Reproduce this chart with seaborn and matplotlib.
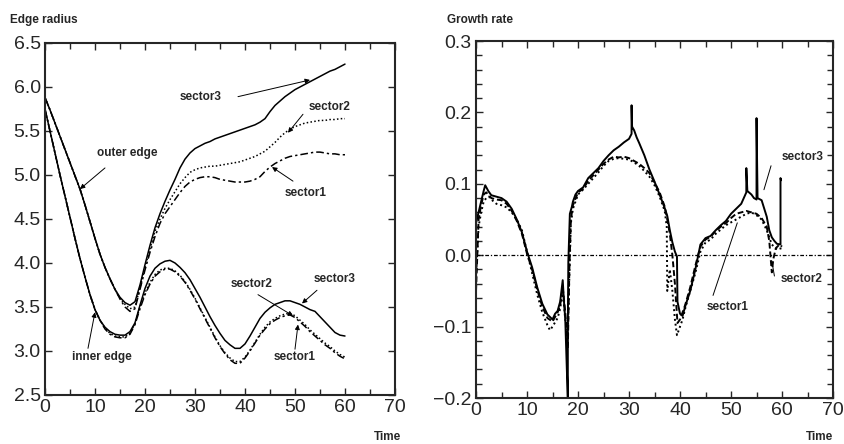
import numpy as np
import matplotlib
matplotlib.use("Agg")
import matplotlib.pyplot as plt
import seaborn as sns
from matplotlib.ticker import MultipleLocator, FuncFormatter

# ---- edge radius data (time 0..60) ----
time = list(range(61))

outer_sector3 = [5.88, 5.74, 5.59, 5.44, 5.29, 5.14, 4.99, 4.84, 4.66, 4.47,
                 4.28, 4.10, 3.95, 3.82, 3.70, 3.61, 3.55, 3.52, 3.56, 3.75,
                 3.98, 4.20, 4.40, 4.56, 4.70, 4.83, 4.95, 5.08, 5.18, 5.25,
                 5.30, 5.33, 5.36, 5.38, 5.41, 5.43, 5.45, 5.47, 5.49, 5.51,
                 5.53, 5.55, 5.57, 5.60, 5.64, 5.72, 5.79, 5.84, 5.89, 5.93,
                 5.97, 6.00, 6.03, 6.06, 6.09, 6.12, 6.15, 6.18, 6.20, 6.23, 6.26]
outer_sector2 = [5.88, 5.74, 5.59, 5.44, 5.29, 5.14, 4.99, 4.84, 4.66, 4.47,
                 4.28, 4.10, 3.95, 3.82, 3.70, 3.60, 3.53, 3.48, 3.50, 3.72,
                 3.95, 4.16, 4.36, 4.50, 4.62, 4.72, 4.81, 4.90, 4.97, 5.03,
                 5.06, 5.08, 5.09, 5.10, 5.10, 5.11, 5.12, 5.13, 5.14, 5.15,
                 5.17, 5.19, 5.21, 5.24, 5.27, 5.32, 5.37, 5.43, 5.48, 5.52,
                 5.55, 5.57, 5.59, 5.60, 5.61, 5.62, 5.62, 5.63, 5.63, 5.64, 5.64]
outer_sector1 = [5.88, 5.74, 5.59, 5.44, 5.29, 5.14, 4.99, 4.84, 4.66, 4.47,
                 4.28, 4.10, 3.95, 3.82, 3.70, 3.59, 3.50, 3.45, 3.48, 3.70,
                 3.92, 4.12, 4.30, 4.45, 4.56, 4.64, 4.72, 4.80, 4.87, 4.92,
                 4.95, 4.97, 4.98, 4.98, 4.97, 4.95, 4.94, 4.93, 4.92, 4.92,
                 4.92, 4.93, 4.95, 4.98, 5.04, 5.09, 5.13, 5.16, 5.19, 5.21,
                 5.22, 5.23, 5.24, 5.25, 5.26, 5.26, 5.25, 5.24, 5.24, 5.23, 5.23]

inner_sector3 = [5.75, 5.50, 5.25, 5.00, 4.76, 4.52, 4.28, 4.05, 3.84, 3.64,
                 3.47, 3.35, 3.27, 3.22, 3.19, 3.18, 3.18, 3.22, 3.32, 3.52,
                 3.71, 3.85, 3.94, 3.99, 4.02, 4.03, 4.00, 3.95, 3.89, 3.81,
                 3.71, 3.61, 3.50, 3.39, 3.29, 3.20, 3.12, 3.07, 3.03, 3.03,
                 3.08, 3.17, 3.27, 3.37, 3.44, 3.49, 3.53, 3.55, 3.57, 3.57,
                 3.55, 3.53, 3.50, 3.47, 3.45, 3.39, 3.33, 3.27, 3.21, 3.18, 3.17]
inner_sector2 = [5.75, 5.50, 5.25, 5.00, 4.76, 4.52, 4.28, 4.05, 3.84, 3.64,
                 3.47, 3.35, 3.26, 3.20, 3.17, 3.16, 3.16, 3.20, 3.31, 3.50,
                 3.66, 3.78, 3.87, 3.92, 3.94, 3.94, 3.91, 3.86, 3.79, 3.70,
                 3.60, 3.49, 3.38, 3.27, 3.16, 3.06, 2.98, 2.92, 2.88, 2.88,
                 2.93, 3.01, 3.10, 3.19, 3.27, 3.33, 3.37, 3.40, 3.42, 3.43,
                 3.40, 3.35, 3.30, 3.24, 3.19, 3.14, 3.09, 3.05, 3.00, 2.96, 2.93]
inner_sector1 = [5.75, 5.50, 5.25, 5.00, 4.76, 4.52, 4.28, 4.05, 3.84, 3.64,
                 3.47, 3.35, 3.25, 3.19, 3.16, 3.15, 3.15, 3.19, 3.30, 3.48,
                 3.64, 3.76, 3.85, 3.90, 3.93, 3.93, 3.90, 3.85, 3.78, 3.69,
                 3.59, 3.48, 3.37, 3.26, 3.15, 3.05, 2.97, 2.90, 2.86, 2.86,
                 2.92, 3.00, 3.09, 3.18, 3.25, 3.31, 3.35, 3.38, 3.40, 3.41,
                 3.38, 3.33, 3.28, 3.22, 3.17, 3.12, 3.07, 3.03, 2.98, 2.94, 2.91]

# ---- growth rate data ----
g3_time = [0, 0, 0.5, 1, 1.5, 1.8, 2.4, 3, 4, 5, 6, 7, 8, 9, 10, 11, 12, 13, 14, 15,
           15.5, 16, 16.5, 17, 17.2, 17.5, 17.8, 18, 18, 18.1, 18.4, 18.8, 19, 19.5,
           20, 21, 22, 23, 24, 25, 26, 27, 28, 29, 30, 30.5, 30.5, 30.6, 31, 31.5,
           32, 33, 34, 35, 36, 37, 37.5, 38, 38.5, 39, 39.4, 39.5, 40, 40.5, 41, 42,
           43, 44, 45, 46, 47, 48, 49, 50, 51, 52, 53, 53, 53.2, 54, 54.5, 55, 55,
           55.2, 56, 57, 57.5, 58, 58.5, 59, 59.7, 59.7, 59.8]
g3_rate = [-0.12, 0.045, 0.06, 0.075, 0.09, 0.098, 0.09, 0.084, 0.082, 0.08, 0.075,
           0.065, 0.05, 0.032, 0.005, -0.017, -0.045, -0.068, -0.083, -0.09, -0.082,
           -0.078, -0.065, -0.035, -0.06, -0.09, -0.158, -0.2, -0.1, -0.01, 0.058,
           0.068, 0.075, 0.085, 0.09, 0.095, 0.108, 0.115, 0.122, 0.132, 0.14, 0.147,
           0.152, 0.158, 0.163, 0.17, 0.21, 0.18, 0.175, 0.165, 0.157, 0.14, 0.12,
           0.103, 0.085, 0.066, 0.055, 0.035, 0.018, 0.005, -0.002, -0.065, -0.082,
           -0.085, -0.072, -0.05, -0.02, 0.015, 0.024, 0.027, 0.035, 0.042, 0.048,
           0.058, 0.065, 0.072, 0.088, 0.122, 0.09, 0.085, 0.08, 0.078, 0.192, 0.08,
           0.077, 0.054, 0.035, 0.025, 0.02, 0.016, 0.015, 0.108, 0.105]

g2_time = [0, 0.5, 1, 1.5, 2, 3, 4, 5, 6, 7, 8, 9, 10, 11, 12, 13, 14, 15, 16, 16.5,
           17, 17.5, 18, 18.3, 18.6, 19, 20, 21, 22, 23, 24, 25, 26, 27, 28, 29, 30,
           31, 32, 33, 34, 35, 36, 37, 37.5, 38, 38.5, 39, 39.5, 40, 40.5, 41, 42,
           43, 44, 45, 46, 47, 48, 49, 50, 51, 52, 53, 54, 55, 56, 57, 57.5, 58,
           58.3, 58.8, 59.5, 60]
g2_rate = [-0.05, 0.05, 0.07, 0.085, 0.088, 0.08, 0.078, 0.077, 0.072, 0.062, 0.048,
           0.03, 0.002, -0.02, -0.048, -0.072, -0.088, -0.093, -0.08, -0.07, -0.045,
           -0.08, -0.13, -0.02, 0.05, 0.07, 0.088, 0.093, 0.104, 0.112, 0.12, 0.128,
           0.134, 0.138, 0.137, 0.138, 0.136, 0.132, 0.128, 0.122, 0.115, 0.102,
           0.088, 0.068, 0.05, 0.03, 0.0, -0.04, -0.095, -0.09, -0.08, -0.07, -0.045,
           -0.015, 0.012, 0.022, 0.026, 0.034, 0.04, 0.045, 0.052, 0.058, 0.06, 0.062,
           0.06, 0.058, 0.052, 0.04, 0.02, -0.024, -0.005, 0.01, 0.015, 0.012]

g1_time = [0, 0.5, 1, 1.5, 2, 2.5, 3, 4, 5, 6, 7, 8, 9, 10, 11, 12, 13, 14, 14.5, 15,
           16, 16.5, 17, 17.5, 18, 18.3, 18.6, 19, 20, 21, 22, 23, 24, 25, 26, 27,
           28, 29, 30, 31, 32, 33, 34, 35, 36, 37, 37.4, 37.5, 38, 38.5, 39, 39.4,
           40, 40.5, 41, 42, 43, 44, 45, 46, 47, 48, 49, 50, 51, 52, 53, 54, 55, 56,
           57, 58, 59, 60]
g1_rate = [-0.03, 0.04, 0.06, 0.075, 0.08, 0.082, 0.078, 0.072, 0.07, 0.067, 0.06,
           0.05, 0.035, 0.005, -0.025, -0.055, -0.08, -0.098, -0.105, -0.1, -0.088,
           -0.075, -0.05, -0.09, -0.11, -0.03, 0.045, 0.065, 0.085, 0.092, 0.1, 0.108,
           0.116, 0.125, 0.132, 0.135, 0.136, 0.135, 0.134, 0.13, 0.125, 0.118, 0.11,
           0.098, 0.082, 0.062, 0.04, -0.05, -0.02, -0.05, -0.09, -0.112, -0.1, -0.09,
           -0.075, -0.05, -0.025, 0.005, 0.018, 0.022, 0.03, 0.036, 0.042, 0.046,
           0.05, 0.054, 0.058, 0.06, 0.056, 0.05, 0.035, 0.015, 0.008, 0.01]

sns.set_style("ticks")
plt.rcParams["font.family"] = ["Liberation Sans", "DejaVu Sans"]

fig = plt.figure(figsize=(8.44, 4.44), dpi=100)
ax1 = fig.add_axes([0.0533, 0.1104, 0.4147, 0.7928])
ax2 = fig.add_axes([0.564, 0.1036, 0.423, 0.804])

solid = "-"
dotted = (0, (1, 1.5))
dashdot = (0, (5, 2, 1.5, 2))
dashed = (0, (3, 1.5))

# left: edge radius
for y, ls in [(outer_sector3, solid), (outer_sector2, dotted), (outer_sector1, dashdot),
              (inner_sector3, solid), (inner_sector2, dotted), (inner_sector1, dashdot)]:
    sns.lineplot(x=time, y=y, ax=ax1, color="black", lw=1.1, linestyle=ls)

# right: growth rate
ax2.axhline(0, color="black", lw=0.9, ls=(0, (3, 1.5, 1, 1.5)))
sns.lineplot(x=g1_time, y=g1_rate, ax=ax2, color="black", lw=1.4, linestyle=dotted,
             estimator=None, sort=False)
sns.lineplot(x=g2_time, y=g2_rate, ax=ax2, color="black", lw=1.4, linestyle=dashed,
             estimator=None, sort=False)
sns.lineplot(x=g3_time, y=g3_rate, ax=ax2, color="black", lw=1.4, linestyle=solid,
             estimator=None, sort=False)

one_decimal = FuncFormatter(lambda v, p: f"{v:.1f}".replace("-", "\u2212"))

for ax in (ax1, ax2):
    ax.set_xlim(0, 70)
    ax.xaxis.set_major_locator(MultipleLocator(10))
    ax.xaxis.set_minor_locator(MultipleLocator(5))
    ax.yaxis.set_major_formatter(one_decimal)
    ax.tick_params(which="both", direction="in", top=True, right=True, width=1,
                   labelsize=14, pad=3)
    ax.tick_params(which="major", length=5)
    ax.tick_params(which="minor", length=4)
    for sp in ax.spines.values():
        sp.set_linewidth(1.5)
    ax.set_xlabel("")
    ax.set_ylabel("")

ax1.set_ylim(2.5, 6.5)
ax1.yaxis.set_major_locator(MultipleLocator(0.5))
ax2.set_ylim(-0.2, 0.3)
ax2.yaxis.set_major_locator(MultipleLocator(0.1))
ax2.yaxis.set_minor_locator(MultipleLocator(0.02))

lab = dict(fontsize=8.5, fontweight="bold", ha="center", va="center")
arw = dict(arrowstyle="-|>", lw=0.7, color="black", mutation_scale=7, shrinkA=0, shrinkB=0)

left_notes = [
    ("outer edge", (16.4, 5.25), (12.0, 5.08), (7.0, 4.84)),
    ("sector3", (31.2, 5.89), (38.6, 5.89), (53.0, 6.08)),
    ("sector2", (57.0, 5.77), (51.6, 5.69), (48.6, 5.48)),
    ("sector1", (52.2, 4.80), (49.6, 4.93), (45.4, 5.09)),
    ("inner edge", (11.4, 2.93), (8.6, 3.03), (10.0, 3.44)),
    ("sector2", (41.4, 3.76), (42.6, 3.64), (49.6, 3.40)),
    ("sector3", (58.0, 3.82), (54.4, 3.69), (51.4, 3.54)),
    ("sector1", (50.0, 2.93), (50.0, 3.02), (50.6, 3.30)),
]
for text, pos, start, end in left_notes:
    ax1.text(*pos, text, **lab)
    ax1.annotate("", xy=end, xytext=start, arrowprops=arw)

right_notes = [
    ("sector3", (64.1, 0.137), (58.0, 0.129), (56.3, 0.088)),
    ("sector1", (49.4, -0.073), (46.3, -0.060), (51.4, 0.049)),
    ("sector2", (63.9, -0.033), (58.6, -0.033), (57.9, -0.004)),
]
for text, pos, start, end in right_notes:
    ax2.text(*pos, text, **lab)
    ax2.annotate("", xy=end, xytext=start,
                 arrowprops=dict(arrowstyle="-", lw=0.7, color="black"))

fig.text(10 / 844, 1 - 20 / 444, "Edge radius", fontsize=8.5, fontweight="bold", va="center")
fig.text(447 / 844, 1 - 20 / 444, "Growth rate", fontsize=8.5, fontweight="bold", va="center")
fig.text(387 / 844, 1 - 437 / 444, "Time", fontsize=8.5, fontweight="bold", ha="center", va="center")
fig.text(820 / 844, 1 - 437 / 444, "Time", fontsize=8.5, fontweight="bold", ha="center", va="center")

fig.savefig("out.png", dpi=100)
